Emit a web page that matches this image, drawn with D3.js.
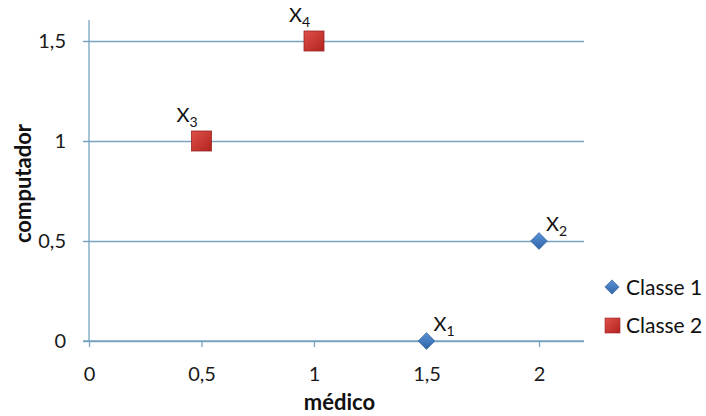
<!DOCTYPE html>
<html>
<head>
<meta charset="utf-8">
<script src="https://cdn.jsdelivr.net/npm/d3@7"></script>
<style>
  html, body { margin: 0; padding: 0; background: #fff; }
  svg { display: block; font-family: Lato, "Open Sans", sans-serif; }
</style>
</head>
<body>
<svg id="chart" width="706" height="416"></svg>
<script>
// Points of each class: x = médico, y = computador
const class1Names = ["1", "2"];
const class1X = [1.5, 2];
const class1Y = [0, 0.5];

const class2Names = ["3", "4"];
const class2X = [0.5, 1];
const class2Y = [1, 1.5];

const xTicks = [0, 0.5, 1, 1.5, 2];
const yTicks = [0, 0.5, 1, 1.5];
const legendLabels = ["Classe 1", "Classe 2"];

const svg = d3.select("#chart");
const defs = svg.append("defs");

const blueGrad = defs.append("linearGradient").attr("id", "blueGrad")
  .attr("x1", 0).attr("y1", 0).attr("x2", 0).attr("y2", 1);
blueGrad.append("stop").attr("offset", "0%").attr("stop-color", "#5b92d6");
blueGrad.append("stop").attr("offset", "100%").attr("stop-color", "#2f64a8");

const redGrad = defs.append("linearGradient").attr("id", "redGrad")
  .attr("x1", 0).attr("y1", 0).attr("x2", 1).attr("y2", 1);
redGrad.append("stop").attr("offset", "0%").attr("stop-color", "#e0504a");
redGrad.append("stop").attr("offset", "100%").attr("stop-color", "#b1231f");

const plot = { left: 89, right: 584, top: 20, bottom: 341 };

const x = d3.scaleLinear().domain([0, 2.2]).range([plot.left, plot.right]);
const y = d3.scaleLinear().domain([0, 1.605]).range([plot.bottom, plot.top]);

const lineColor = "#78a4c0";
const fontMain = "20px";
const comma = d => String(d).replace(".", ",");

// horizontal gridlines with left ticks
const yAxis = d3.axisLeft(y).tickValues(yTicks)
  .tickSize(-(plot.right - plot.left)).tickSizeOuter(0)
  .tickFormat(comma);
const gy = svg.append("g").attr("transform", `translate(${plot.left},0)`).call(yAxis);
gy.select(".domain").remove();
gy.selectAll(".tick line").attr("stroke", lineColor).attr("stroke-width", 1.3)
  .attr("x1", -6);
gy.selectAll(".tick text").attr("font-size", fontMain).attr("fill", "#1a1a1a")
  .attr("x", -23).attr("dy", "0.34em").attr("font-family", "Lato, sans-serif");

// vertical axis line
svg.append("line")
  .attr("x1", plot.left).attr("x2", plot.left)
  .attr("y1", plot.top).attr("y2", plot.bottom)
  .attr("stroke", lineColor).attr("stroke-width", 1.3);

// x axis
const xAxis = d3.axisBottom(x).tickValues(xTicks).tickSize(6).tickSizeOuter(0)
  .tickFormat(comma);
const gx = svg.append("g").attr("transform", `translate(0,${plot.bottom})`).call(xAxis);
gx.select(".domain").attr("stroke", lineColor).attr("stroke-width", 1.3)
  .attr("d", `M${plot.left - 6},0H${plot.right}`);
gx.selectAll(".tick line").attr("stroke", lineColor).attr("stroke-width", 1.3);
gx.selectAll(".tick text").attr("font-size", fontMain).attr("fill", "#1a1a1a")
  .attr("y", 40).attr("dy", 0).attr("font-family", "Lato, sans-serif");

// axis titles
svg.append("text")
  .attr("transform", `translate(31,${(plot.top + plot.bottom) / 2 + 3}) rotate(-90)`)
  .attr("text-anchor", "middle")
  .attr("font-size", "22px").attr("font-weight", "bold").attr("fill", "#111")
  .text("computador");
svg.append("text")
  .attr("x", (plot.left + plot.right) / 2 + 3).attr("y", 410)
  .attr("text-anchor", "middle")
  .attr("font-size", "22px").attr("font-weight", "bold").attr("fill", "#111")
  .text("médico");

const diamond = d3.symbol().type(d3.symbolDiamond2);
const class1 = class1X.map((v, i) => ({ x: v, y: class1Y[i], name: class1Names[i] }));
const class2 = class2X.map((v, i) => ({ x: v, y: class2Y[i], name: class2Names[i] }));

// class 2 squares
svg.append("g").selectAll("rect").data(class2).join("rect")
  .attr("x", d => x(d.x) - 10).attr("y", d => y(d.y) - 10)
  .attr("width", 20).attr("height", 20)
  .attr("fill", "url(#redGrad)").attr("stroke", "#9a2522").attr("stroke-width", 0.8);

// class 1 diamonds
svg.append("g").selectAll("path").data(class1).join("path")
  .attr("transform", d => `translate(${x(d.x)},${y(d.y)})`)
  .attr("d", diamond.size(180)())
  .attr("fill", "url(#blueGrad)").attr("stroke", "#2d5d99").attr("stroke-width", 0.6);

// point labels X with subscript
function pointLabel(data, dx, dy) {
  const t = svg.append("g").selectAll("text").data(data).join("text")
    .attr("x", d => x(d.x) + dx).attr("y", d => y(d.y) + dy)
    .attr("font-size", "20px").attr("fill", "#111");
  t.append("tspan").text("X");
  t.append("tspan").attr("font-size", "14px").attr("dy", 5).text(d => d.name);
}
pointLabel(class1, 7, -10);
pointLabel(class2, -25, -19);

// legend
const legend = svg.append("g");
legend.append("path")
  .attr("transform", "translate(612,287)")
  .attr("d", d3.symbol().type(d3.symbolDiamond2).size(130)())
  .attr("fill", "url(#blueGrad)").attr("stroke", "#2d5d99").attr("stroke-width", 0.6);
legend.append("rect")
  .attr("x", 605).attr("y", 318).attr("width", 15).attr("height", 15)
  .attr("fill", "url(#redGrad)").attr("stroke", "#9a2522").attr("stroke-width", 0.6);
legend.selectAll("text").data(legendLabels).join("text")
  .attr("x", 626).attr("y", (d, i) => 295 + i * 38)
  .attr("font-size", "21px").attr("fill", "#111")
  .text(d => d);
</script>
</body>
</html>
